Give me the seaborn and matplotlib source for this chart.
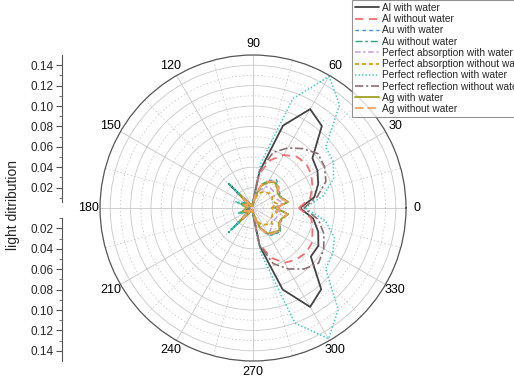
import seaborn as sns
import pandas as pd
import numpy as np
import matplotlib.pyplot as plt

# angles in degrees (shared by all series)
angles = [0, 10, 20, 30, 40, 50, 60, 70, 80, 90, 100, 110, 120, 130, 135, 140, 150, 160, 170, 180,
          190, 200, 210, 220, 225, 230, 240, 250, 260, 270, 280, 290, 300, 310, 320, 330, 340, 350, 360]

al_water = [.046, .061, .068, .073, .076, .105, .112, .086, .036, .006, .003, .002, .003, .006, .030, .005, .008, .012, .006, .004,
            .006, .011, .008, .005, .029, .006, .003, .002, .003, .006, .038, .085, .112, .104, .074, .074, .068, .060, .046]
al_nowater = [.045, .057, .062, .066, .068, .066, .060, .050, .034, .006, .003, .002, .003, .004, .012, .004, .006, .008, .005, .004,
              .005, .008, .006, .004, .012, .004, .003, .002, .003, .006, .036, .052, .062, .066, .068, .067, .062, .058, .045]
au_water = [.024, .034, .030, .029, .033, .036, .031, .024, .013, .004, .003, .002, .003, .006, .025, .005, .009, .014, .006, .004,
            .006, .013, .008, .005, .025, .005, .003, .002, .003, .004, .011, .023, .031, .034, .035, .031, .030, .035, .024]
au_nowater = [.023, .035, .030, .030, .032, .034, .030, .025, .012, .004, .003, .002, .003, .007, .034, .006, .010, .016, .007, .005,
              .007, .015, .009, .006, .034, .006, .003, .002, .003, .004, .010, .022, .030, .033, .035, .030, .031, .035, .023]
pa_water = [.020, .030, .025, .024, .026, .026, .024, .018, .009, .003, .002, .002, .002, .003, .008, .003, .004, .006, .004, .003,
            .004, .006, .004, .003, .008, .003, .002, .002, .002, .003, .009, .020, .031, .027, .025, .024, .025, .029, .020]
pa_nowater = [.018, .024, .020, .022, .022, .020, .018, .015, .008, .003, .002, .002, .002, .003, .007, .003, .004, .005, .003, .003,
              .003, .005, .004, .003, .007, .003, .002, .002, .002, .003, .008, .015, .019, .021, .024, .021, .020, .024, .018]
pr_water = [.051, .070, .084, .091, .093, .132, .149, .114, .045, .008, .003, .002, .003, .006, .032, .006, .010, .018, .007, .004,
            .007, .016, .009, .006, .031, .006, .003, .002, .003, .008, .045, .120, .148, .130, .093, .090, .085, .072, .051]
pr_nowater = [.050, .064, .076, .081, .083, .076, .068, .058, .037, .006, .003, .002, .003, .004, .010, .004, .005, .007, .004, .003,
              .004, .007, .005, .004, .010, .004, .003, .002, .003, .006, .037, .058, .069, .078, .084, .080, .074, .065, .050]
ag_water = [.022, .035, .029, .028, .031, .033, .029, .023, .011, .004, .003, .002, .003, .005, .018, .005, .007, .011, .008, .006,
            .008, .011, .007, .005, .018, .005, .003, .002, .003, .004, .010, .021, .029, .031, .034, .029, .030, .035, .022]
ag_nowater = [.023, .034, .029, .029, .032, .034, .030, .024, .012, .004, .003, .002, .003, .004, .014, .004, .006, .009, .005, .004,
              .005, .009, .006, .004, .014, .004, .003, .002, .003, .004, .011, .022, .030, .032, .034, .030, .030, .034, .023]

labels = ['Al with water', 'Al without water', 'Au with water', 'Au without water',
          'Perfect absorption with water', 'Perfect absorption without water',
          'Perfect reflection with water', 'Perfect reflection without water',
          'Ag with water', 'Ag without water']
series = [al_water, al_nowater, au_water, au_nowater, pa_water, pa_nowater,
          pr_water, pr_nowater, ag_water, ag_nowater]

# style per series: color, dash pattern (None = solid), linewidth
styles = [('#444444', None, 1.3),
          ('#f07070', [6, 4], 1.3),
          ('#3a8fd8', [2.5, 2.5], 1.0),
          ('#2aa876', [5, 2, 2, 2], 1.0),
          ('#c79be0', [4, 2, 1.5, 2], 1.1),
          ('#d4a017', [3, 2], 1.3),
          ('#3cc8c8', [1, 1.5], 1.1),
          ('#8b6f70', [6, 2, 1.5, 2], 1.2),
          ('#a0a020', None, 1.3),
          ('#f4a060', [6, 3], 1.3)]

sns.set_theme(style='white')
plt.rcParams['font.family'] = ['Liberation Sans', 'DejaVu Sans']
plt.rcParams['lines.scale_dashes'] = False

fig = plt.figure(figsize=(5.14, 3.85), dpi=100)

# polar plot
ax = fig.add_axes([0.1946, 0.0623, 0.5953, 0.7948], projection='polar')
theta = np.deg2rad(angles)
handles = []
for lab, vals, (col, dash, lw) in zip(labels, series, styles):
    df = pd.DataFrame({'theta': theta, 'r': vals})
    sns.lineplot(x='theta', y='r', data=df, ax=ax, color=col, lw=lw,
                 sort=False, estimator=None, label=lab, legend=False)
    line = ax.lines[-1]
    if dash is not None:
        line.set_dashes(dash)
    handles.append(line)

ax.set_ylim(0, 0.15)
ax.set_xlabel('')
ax.set_ylabel('')
ax.set_yticks(np.arange(0.02, 0.15, 0.02))
ax.set_yticks(np.arange(0.01, 0.15, 0.02), minor=True)
ax.set_yticklabels([])
ax.set_xticks(np.deg2rad(np.arange(0, 360, 30)))
ax.set_xticklabels([str(a) for a in range(0, 360, 30)], fontsize=9)
ax.set_xticks(np.deg2rad(np.arange(15, 360, 30)), minor=True)
ax.grid(which='major', color='#c8c8c8', lw=0.6, ls='-')
ax.grid(which='minor', color='#c8c8c8', lw=0.6, ls=':')
ax.tick_params(axis='x', pad=-5, colors='black')
ax.tick_params(axis='both', which='minor', length=0)
ax.spines['polar'].set_color('#555555')
ax.spines['polar'].set_linewidth(0.9)

# left mirrored radial scale
for bottom, lims, lo in [(0.4597, (0, 0.15), 0.006), (0.0623, (0.15, 0), 0.01)]:
    sa = fig.add_axes([62 / 514, bottom, 0.001, 0.3974])
    sa.set_ylim(*lims)
    sa.set_xticks([])
    for s in ['top', 'right', 'bottom']:
        sa.spines[s].set_visible(False)
    sa.spines['left'].set_color('#555555')
    sa.spines['left'].set_linewidth(0.8)
    sa.spines['left'].set_bounds(lo, 0.15)
    sa.set_yticks(np.arange(0.02, 0.15, 0.02))
    sa.set_yticklabels(['%.2f' % v for v in np.arange(0.02, 0.15, 0.02)])
    sa.set_yticks(np.arange(0.01, 0.15, 0.02), minor=True)
    sa.tick_params(axis='y', which='major', direction='out', length=4, width=0.8,
                   color='#555555', labelsize=8.5, pad=2, left=True)
    sa.tick_params(axis='y', which='minor', direction='out', length=2, width=0.6,
                   color='#555555', left=True)
    sa.patch.set_alpha(0)

fig.text(13 / 514, 1 - 205 / 385, 'light ditribution', rotation=90,
         ha='center', va='center', fontsize=10)

leg = fig.legend(handles=handles, labels=labels, loc='upper left',
                 bbox_to_anchor=(352 / 514, 1.0), fontsize=7.3, frameon=True,
                 fancybox=False, borderaxespad=0, handlelength=2.4,
                 labelspacing=0.12, handletextpad=0.3, borderpad=0.3)
leg.get_frame().set_edgecolor('#777777')
leg.get_frame().set_linewidth(0.8)

fig.savefig('out.png', dpi=100)
